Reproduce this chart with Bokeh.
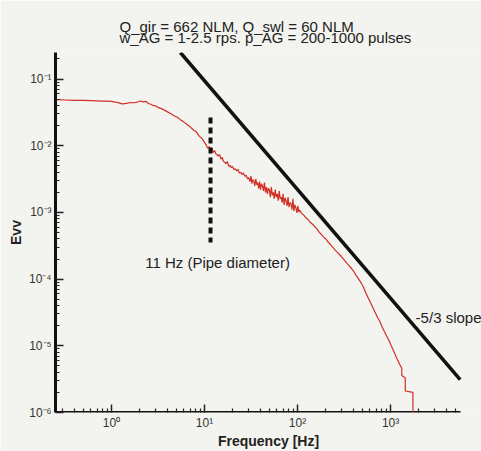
from bokeh.plotting import figure
from bokeh.models import Title, FixedTicker, Label
from bokeh.embed import file_html
from bokeh.resources import INLINE

# ---- data ----
freq = [0.26, 0.32, 0.4, 0.5, 0.6, 0.7, 0.8, 0.9, 1.0, 1.1, 1.2, 1.3, 1.45, 1.6, 1.75, 1.9,
        2.05, 2.2, 2.35, 2.5, 2.65, 2.8, 3.0, 3.2, 3.45, 3.7, 4.0, 4.3, 4.7, 5.1, 5.5, 6.0,
        6.5, 7.0, 7.6, 8.2, 8.8, 9.4, 10.0,
        10.4, 10.8, 11.2, 11.6, 12.0, 12.4, 12.8, 13.2, 13.6, 14.0, 14.5, 15.0, 15.5, 16.0,
        16.5, 17.0, 17.6, 18.2, 18.8, 19.4, 20.0, 20.7, 21.4, 22.1, 22.9, 23.7, 24.5, 25.3,
        26.2, 27.1, 28.0, 29.0,
        30.0, 30.8, 31.6, 32.3, 33.0, 33.9, 34.7, 35.6, 36.4, 37.3, 38.2, 39.1, 40.0, 41.0,
        42.0, 43.0, 44.1, 45.2, 46.3, 47.4, 48.6, 49.8, 51.0, 52.3, 53.6, 54.9, 56.2, 57.6,
        59.0, 60.5, 62.0, 63.5, 65.1, 66.7, 68.3, 70.0, 71.7, 73.5, 75.3, 77.2, 79.1, 81.0,
        83.0, 85.0, 87.1, 89.3, 91.5, 93.7, 96.0, 98.4, 100.8, 103.3, 106.0,
        110, 116, 122, 129, 136, 144, 152, 161, 170, 180, 190, 201, 213, 226, 240, 255, 270,
        286, 303, 321, 340, 360, 382, 405, 430, 455, 482, 510, 540, 572, 606, 642, 680, 720,
        763, 808, 856, 907, 961, 1018, 1078, 1140, 1200, 1260, 1320, 1320, 1440, 1440, 1740,
        1740]
evv = [0.049, 0.0485, 0.048, 0.0478, 0.0476, 0.0472, 0.0468, 0.0466, 0.0462, 0.0452, 0.0438,
       0.0425, 0.0432, 0.0445, 0.0441, 0.0452, 0.0468, 0.0455, 0.0462, 0.0430, 0.0418, 0.0402,
       0.0395, 0.0372, 0.0360, 0.0342, 0.0322, 0.0305, 0.0282, 0.0268, 0.0246, 0.0226, 0.0208,
       0.0192, 0.0172, 0.0160, 0.0138, 0.0128, 0.0112,
       0.0103, 0.0092, 0.0097, 0.0088, 0.0093, 0.0079, 0.0085, 0.0076, 0.0074, 0.0070, 0.0074,
       0.0063, 0.0067, 0.0058, 0.0057, 0.0054, 0.0058, 0.0049, 0.0051, 0.0047, 0.0049, 0.0044,
       0.0045, 0.0042, 0.0044, 0.0039, 0.0040, 0.0037, 0.0039, 0.0035, 0.0036, 0.0032,
       0.0033, 0.0029, 0.0035, 0.0027, 0.0031, 0.0030, 0.0025, 0.0032, 0.0026, 0.0028, 0.0023,
       0.0029, 0.0022, 0.0027, 0.0025, 0.0021, 0.0028, 0.0020, 0.0024, 0.0019, 0.0023, 0.0022,
       0.0017, 0.0024, 0.0018, 0.0020, 0.0016, 0.0022, 0.0017, 0.0019, 0.0015, 0.0021, 0.0016,
       0.0017, 0.0014, 0.0019, 0.0013, 0.00165, 0.0015, 0.00125, 0.0017, 0.0012, 0.0014,
       0.00135, 0.0011, 0.0016, 0.00105, 0.0013, 0.00118, 0.00098, 0.00125, 0.00102, 0.00108,
       0.00098, 0.00092, 0.00084, 0.00079, 0.00072, 0.00067, 0.00062, 0.00057, 0.00051, 0.00047,
       0.00043, 0.00040, 0.00036, 0.00033, 0.00030, 0.00027, 0.00025, 0.00023, 0.00021, 0.00019,
       0.000172, 0.000158, 0.000143, 0.000128, 0.000112, 0.000100, 8.8e-5, 7.6e-5, 6.3e-5,
       5.3e-5, 4.5e-5, 3.8e-5, 3.2e-5, 2.7e-5, 2.35e-5, 1.95e-5, 1.65e-5, 1.4e-5, 1.2e-5,
       1.0e-5, 8.4e-6, 7.0e-6, 6.0e-6, 5.2e-6, 4.6e-6, 3.6e-6, 3.3e-6, 2.1e-6, 2.0e-6, 1e-7]

slope_f = [5.5, 5600]
slope_e = [0.25, 3.1e-6]

pipe_f = [11.6, 11.6]
pipe_e = [0.0266, 3.55e-4]

y_ticks = [1e-6, 1e-5, 1e-4, 1e-3, 1e-2, 1e-1]
y_tick_labels = ["10⁻⁶", "10⁻⁵", "10⁻⁴", "10⁻³", "10⁻²", "10⁻¹"]
x_ticks = [1, 10, 100, 1000]
x_tick_labels = ["10⁰", "10¹", "10²", "10³"]
x_axis_end = 5650  # right end of the drawn frequency axis

title_lines = ["Q_gir = 662 NLM, Q_swl = 60 NLM",
               "w_AG = 1-2.5 rps. p_AG = 200-1000 pulses"]

FONT = "Liberation Sans"
BG = "#f3f3ef"

# frame runs to the right edge so that the "-5/3 slope" text is not clipped;
# the visible axis line stops at x_axis_end as in the original
p = figure(width=481, height=451, x_axis_type="log", y_axis_type="log",
           x_range=(0.25, 9500), y_range=(1e-6, 0.25),
           output_backend="svg", toolbar_location=None, title=None,
           min_border_left=55, min_border_right=0, min_border_top=52, min_border_bottom=34,
           background_fill_color=BG, border_fill_color=BG, outline_line_color=None)
p.grid.visible = False

title = Title(text="\n".join(title_lines), align="left", offset=64, text_font=FONT,
              text_font_size="15px", text_font_style="normal", text_color="#222222",
              text_line_height=0.68, standoff=12)
p.add_layout(title, "above")

def minor(ticks_dec, upto):
    out = []
    for d in ticks_dec:
        for m in range(2, 10):
            if d * m <= upto:
                out.append(d * m)
    return out

p.yaxis.ticker = FixedTicker(ticks=y_ticks, minor_ticks=minor([1e-6, 1e-5, 1e-4, 1e-3, 1e-2, 1e-1], 1))
p.yaxis.major_label_overrides = {t: l for t, l in zip(y_ticks, y_tick_labels)}
p.xaxis.ticker = FixedTicker(ticks=x_ticks, minor_ticks=minor([0.1, 1, 10, 100, 1000], x_axis_end))
p.xaxis.major_label_overrides = {t: l for t, l in zip(x_ticks, x_tick_labels)}

for ax in (p.xaxis[0], p.yaxis[0]):
    ax.major_tick_in = 8
    ax.major_tick_out = 0
    ax.minor_tick_in = 4
    ax.minor_tick_out = 0
    ax.major_tick_line_width = 1.5
    ax.minor_tick_line_width = 1.2
    ax.major_tick_line_color = "#222222"
    ax.minor_tick_line_color = "#222222"
    ax.axis_line_color = "#111111"
    ax.major_label_text_font = FONT
    ax.major_label_text_font_size = "12px"
    ax.major_label_text_color = "#333333"
    ax.axis_label_text_font = FONT
    ax.axis_label_text_font_size = "14px"
    ax.axis_label_text_font_style = "bold"
    ax.axis_label_text_color = "#222222"

p.yaxis.axis_line_width = 3
p.xaxis.axis_line_color = None
p.yaxis.axis_label = "Evv"
p.xaxis.axis_label = "Frequency [Hz]"
p.yaxis.major_label_standoff = 4
p.yaxis.axis_label_standoff = 2
p.xaxis.major_label_standoff = 3
p.xaxis.axis_label_standoff = 0

# visible frequency-axis line (half of it is inside the frame)
p.line([0.25, x_axis_end], [1e-6, 1e-6], line_color="#111111", line_width=3)

# spectrum
p.line(freq, evv, line_color="#cf2f24", line_width=1.2)
# -5/3 slope reference
p.line(slope_f, slope_e, line_color="#111111", line_width=3.5)
# pipe-diameter marker
p.line(pipe_f, pipe_e, line_color="#111111", line_width=4, line_dash="6 4")

p.add_layout(Label(x=2.3, y=1.75e-4, text="11 Hz (Pipe diameter)", text_font=FONT,
                   text_font_size="15px", text_color="#222222", text_baseline="middle",
                   text_align="left"))
p.add_layout(Label(x=1860, y=2.7e-5, text="-5/3 slope", text_font=FONT,
                   text_font_size="15px", text_color="#222222", text_baseline="middle",
                   text_align="left"))

open("out.html", "w").write(file_html(p, INLINE))
